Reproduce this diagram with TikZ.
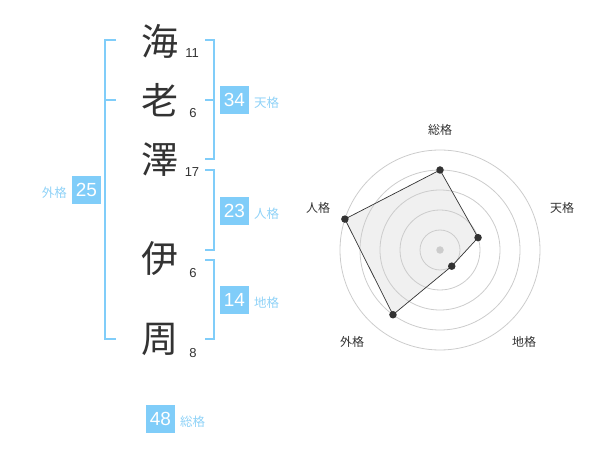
\documentclass[tikz,border=0pt]{standalone}
\usepackage{fontspec}
\setmainfont{Liberation Sans}
\newfontfamily\cjk{Noto Sans CJK JP}
\usetikzlibrary{positioning,calc}
\definecolor{kblue}{HTML}{80CDF9}
\definecolor{klabel}{HTML}{8FD2F7}
\definecolor{kdark}{HTML}{333333}
\definecolor{kring}{HTML}{CCCCCC}
\definecolor{kfill}{HTML}{F0F0F0}
\begin{document}
\begin{tikzpicture}[x=1pt,y=-1pt]
        \tikzstyle{kanji}=[text=kdark, inner sep=0pt, font=\cjk\fontsize{37}{37}\selectfont]
        \tikzstyle{stroke}=[text=kdark, inner sep=0pt, font=\fontsize{13}{13}\selectfont]
        \tikzstyle{kakubox}=[fill=kblue, text=white, inner sep=0pt, minimum size=28.5pt, font=\fontsize{19}{19}\selectfont]
        \tikzstyle{kakulbl}=[text=klabel, inner sep=0pt, font=\cjk\fontsize{12.5}{12.5}\selectfont]
        \tikzstyle{brk}=[draw=kblue, line width=2pt]
        \tikzstyle{ring}=[draw=kring, line width=0.8pt]
        \tikzstyle{dot}=[circle, fill=kdark, inner sep=0pt, minimum size=7.5pt]
        \tikzstyle{axlbl}=[text=kdark, inner sep=0pt, font=\cjk\fontsize{12}{12}\selectfont]

        \useasboundingbox (0,0) rectangle (600,470);

        % name
        \node[kanji] (k1) at (160,41)  {海};
        \node[kanji] (k2) at (160,100) {老};
        \node[kanji] (k3) at (160,160) {澤};
        \node[kanji] (k4) at (160,259) {伊};
        \node[kanji] (k5) at (160,339) {周};
        \node[stroke] (s1) at (192,53)  {11};
        \node[stroke] (s2) at (193,113) {6};
        \node[stroke] (s3) at (192,172) {17};
        \node[stroke] (s4) at (193,273) {6};
        \node[stroke] (s5) at (193,353) {8};

        % brackets
        \coordinate (lt) at (105,40);
        \coordinate (lb) at (105,339);
        \draw[brk] ($(lt)+(11,0)$) -- (lt) -- (lb) -- ($(lb)+(11,0)$);
        \draw[brk] (105,100) -- (116,100);
        \coordinate (tt) at (214.3,40);
        \coordinate (tb) at (214.3,159.5);
        \draw[brk] ($(tt)+(-9,0)$) -- (tt) -- (tb) -- ($(tb)+(-9,0)$);
        \draw[brk] (214.3,100) -- (205.3,100);
        \coordinate (jt) at (214.3,170);
        \coordinate (jb) at (214.3,250);
        \draw[brk] ($(jt)+(-9,0)$) -- (jt) -- (jb) -- ($(jb)+(-9,0)$);
        \coordinate (ct) at (214.3,260);
        \coordinate (cb) at (214.3,339);
        \draw[brk] ($(ct)+(-9,0)$) -- (ct) -- (cb) -- ($(cb)+(-9,0)$);

        % kaku
        \node[kakubox] (ten) at (234.5,100) {34};
        \node[kakulbl, right=5pt of ten, yshift=-3pt] {天格};
        \node[kakubox] (jin) at (234.5,211) {23};
        \node[kakulbl, right=5pt of jin, yshift=-3pt] {人格};
        \node[kakubox] (chi) at (234.5,300) {14};
        \node[kakulbl, right=5pt of chi, yshift=-3pt] {地格};
        \node[kakubox] (gai) at (86.5,190) {25};
        \node[kakulbl, left=5pt of gai, yshift=-3pt] {外格};
        \node[kakubox] (sou) at (160.5,419) {48};
        \node[kakulbl, right=5pt of sou, yshift=-3pt] {総格};

        % radar
        \coordinate (o) at (440,250);
        \coordinate (pS) at ($(o)+(0,-80)$);
        \coordinate (pT) at ($(o)+({40*cos(18)},{-40*sin(18)})$);
        \coordinate (pC) at ($(o)+({20*cos(54)},{20*sin(54)})$);
        \coordinate (pG) at ($(o)+({-80*cos(54)},{80*sin(54)})$);
        \coordinate (pJ) at ($(o)+({-100*cos(18)},{-100*sin(18)})$);
        \fill[kfill] (pS) -- (pT) -- (pC) -- (pG) -- (pJ) -- cycle;
        \foreach \r in {20,40,60,80,100}
            \draw[ring] (o) circle (\r);
        \draw[kdark, line width=0.7pt] (pS) -- (pT) -- (pC) -- (pG) -- (pJ) -- cycle;
        \node[circle, fill=kring, inner sep=0pt, minimum size=7.5pt] (oc) at (o) {};
        \foreach \p in {pS,pT,pC,pG,pJ}
            \node[dot] at (\p) {};
        \node[axlbl] (aS) at ($(o)+(0,-120)$) {総格};
        \node[axlbl] (aT) at ($(o)+(122,-42)$) {天格};
        \node[axlbl] (aC) at ($(o)+(84,92)$) {地格};
        \node[axlbl] (aG) at ($(o)+(-88,92)$) {外格};
        \node[axlbl] (aJ) at ($(o)+(-122,-42)$) {人格};
    \end{tikzpicture}
\end{document}
